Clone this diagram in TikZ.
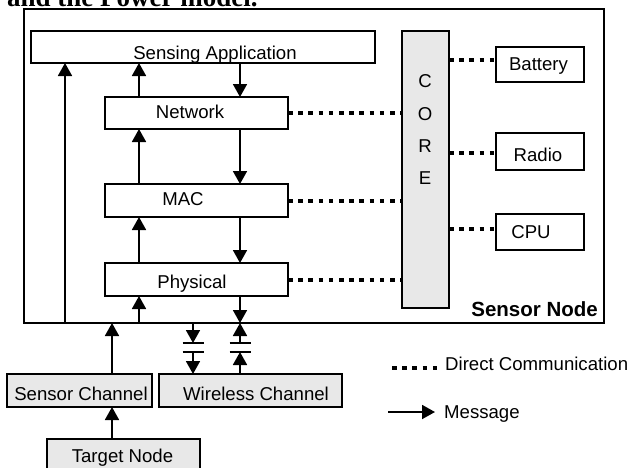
\documentclass[tikz,border=0pt]{standalone}
\usepackage{fontspec}
\setmainfont{Liberation Sans}
\newfontfamily\serifface{Liberation Serif}
\usetikzlibrary{arrows.meta}

\definecolor{boxgray}{RGB}{232,232,232}

\tikzset{
  box/.style={draw, line width=1.8pt, inner sep=0pt, outer sep=0pt},
  gbox/.style={box, fill=boxgray},
  msg/.style={line width=1.8pt, -{Triangle[length=13pt,width=14pt]}},
  capbar/.style={line width=1.8pt},
  dc/.style={line width=4pt, dash pattern=on 4.5pt off 5.7pt},
  lbl/.style={font=\fontsize{18.6}{21}\selectfont, inner sep=0pt, anchor=base},
  boldlbl/.style={font=\fontsize{20.5}{23}\selectfont\bfseries, inner sep=0pt},
}

\begin{document}
\begin{tikzpicture}[x=1pt, y=-1pt]
\useasboundingbox (0,0) rectangle (628,467);

\begin{scope}
  \clip (0,0) rectangle (628,467);
  % running text of the page above the figure
  \node[anchor=base west, inner sep=0pt, font=\serifface\bfseries\fontsize{27}{30}\selectfont]
    (caption) at (7,6) {and the Power model.};

  % sensor node frame
  \node[box, minimum width=580pt, minimum height=314pt] (outer) at (314,166) {};

  % protocol stack
  \node[box, minimum width=344pt, minimum height=32pt] (sa)  at (203,47) {};
  \node[box, minimum width=183pt, minimum height=32pt] (net) at (196.5,113) {};
  \node[box, minimum width=183pt, minimum height=33pt] (mac) at (196.5,200.5) {};
  \node[box, minimum width=183pt, minimum height=33pt] (phy) at (196.5,279.5) {};

  % core and hardware models
  \node[gbox, minimum width=47pt, minimum height=277pt] (core) at (425.5,169.5) {};
  \node[box, minimum width=88pt, minimum height=35pt] (bat) at (540,64.5) {};
  \node[box, minimum width=88pt, minimum height=37pt] (rad) at (540,151.5) {};
  \node[box, minimum width=88pt, minimum height=36pt] (cpu) at (540,232) {};

  % channels and target
  \node[gbox, minimum width=145pt, minimum height=33pt] (sc)  at (79.5,390.5) {};
  \node[gbox, minimum width=183pt, minimum height=33pt] (wc)  at (250.5,390.5) {};
  \node[gbox, minimum width=153pt, minimum height=41pt] (tgt) at (123.5,459.5) {};

  % labels
  \node[lbl] (saT)  at (215,59.5) {Sensing Application};
  \node[lbl] (netT) at (190,118) {Network};
  \node[lbl] (macT) at (183,205) {MAC};
  \node[lbl] (phyT) at (192,288) {Physical};
  \node[lbl] (batT) at (538.5,70.5) {Battery};
  \node[lbl] (radT) at (538,161.5) {Radio};
  \node[lbl] (cpuT) at (531,238) {CPU};
  \node[lbl] (c1) at (425,87) {C};
  \node[lbl] (c2) at (425,120) {O};
  \node[lbl] (c3) at (425,152) {R};
  \node[lbl] (c4) at (425,184) {E};
  \node[boldlbl, anchor=base east] (snT) at (598,316) {Sensor Node};
  \node[lbl] (scT)  at (81,400) {Sensor Channel};
  \node[lbl] (wcT)  at (256,400) {Wireless Channel};
  \node[lbl] (tgtT) at (122.5,462.5) {Target Node};

  % x positions of the vertical message paths
  \coordinate (xa) at (65,0);
  \coordinate (xu) at (139,0);
  \coordinate (xd) at (240,0);
  \coordinate (xs) at (112,0);
  \coordinate (xc) at (193,0);

  % messages through the stack
  \draw[msg] (outer.south -| xa) -- (sa.south -| xa);
  \draw[msg] (net.north -| xu) -- (sa.south -| xu);
  \draw[msg] (sa.south -| xd) -- (net.north -| xd);
  \draw[msg] (mac.north -| xu) -- (net.south -| xu);
  \draw[msg] (net.south -| xd) -- (mac.north -| xd);
  \draw[msg] (phy.north -| xu) -- (mac.south -| xu);
  \draw[msg] (mac.south -| xd) -- (phy.north -| xd);
  \draw[msg] (outer.south -| xu) -- (phy.south -| xu);
  \draw[msg] (phy.south -| xd) -- (outer.south -| xd);

  % sensing path
  \draw[msg] (sc.north -| xs) -- (outer.south -| xs);
  \draw[msg] (tgt.north -| xs) -- (sc.south -| xs);

  % wireless path, broken by the channel gap
  \coordinate (ca) at (193,343);
  \coordinate (cb) at (193,352);
  \coordinate (da) at (240,343);
  \coordinate (db) at (240,352);
  \draw[msg] (outer.south -| xc) -- (ca);
  \draw[msg] (cb) -- (wc.north -| xc);
  \draw[msg] (da) -- (outer.south -| xd);
  \draw[msg] (wc.north -| xd) -- (db);
  \foreach \p in {ca,cb,da,db}
    \draw[capbar] ([xshift=-10.5pt]\p) -- ([xshift=10.5pt]\p);

  % direct communication with the core
  \draw[dc] (net.east) -- (net.east -| core.west);
  \draw[dc] (mac.east) -- (mac.east -| core.west);
  \draw[dc] (phy.east) -- (phy.east -| core.west);
  \coordinate (yb) at (0,60);
  \coordinate (yr) at (0,153);
  \coordinate (yc) at (0,229);
  \draw[dc] (core.east |- yb) -- (bat.west |- yb);
  \draw[dc] (core.east |- yr) -- (rad.west |- yr);
  \draw[dc] (core.east |- yc) -- (cpu.west |- yc);

  % legend
  \coordinate (l1a) at (392,368);
  \coordinate (l1b) at (438,368);
  \draw[dc] (l1a) -- (l1b);
  \node[lbl, anchor=base west] (dcT) at (445,370) {Direct Communication};
  \coordinate (l2a) at (388,412);
  \coordinate (l2b) at (435,412);
  \draw[msg] (l2a) -- (l2b);
  \node[lbl, anchor=base west] (msgT) at (444,418) {Message};
\end{scope}
\end{tikzpicture}
\end{document}
